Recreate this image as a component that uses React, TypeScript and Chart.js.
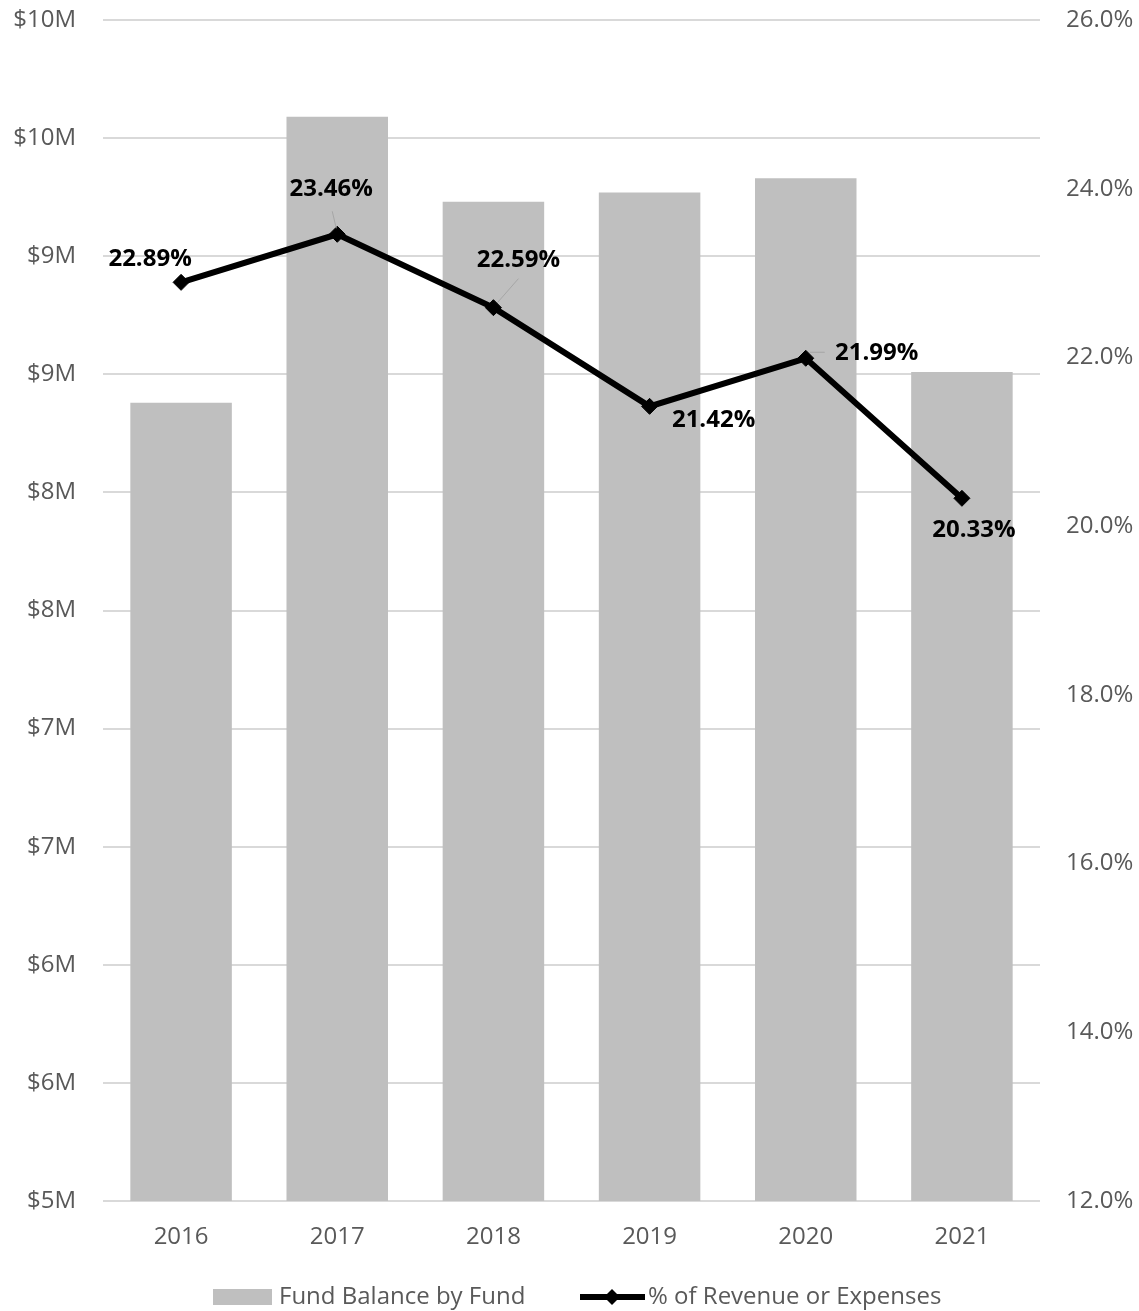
import React, { useEffect, useRef } from "react";
import { Chart, registerables } from "chart.js";

Chart.register(...registerables);

const years = ["2016", "2017", "2018", "2019", "2020", "2021"];
const fundBalance = [8.38, 9.59, 9.23, 9.27, 9.33, 8.51]; // $M
const pctRevenue = [22.89, 23.46, 22.59, 21.42, 21.99, 20.33]; // %
const seriesNames = ["Fund Balance by Fund", "% of Revenue or Expenses"];

// label placement relative to point (px) and whether a leader line is drawn
const labelOffsets = [
  { dx: -31, dy: -23, leader: false },
  { dx: -6, dy: -45, leader: true },
  { dx: 25, dy: -48, leader: true },
  { dx: 64, dy: 14, leader: false },
  { dx: 71, dy: -5, leader: true },
  { dx: 12, dy: 32, leader: false },
];

const FONT = "'Open Sans', 'Noto Sans', sans-serif";
const GREY_TEXT = "#595959";
const BAR_COLOR = "#bfbfbf";
const CLEAR = "rgba(0,0,0,0)";

const overlayPlugin = {
  id: "overlay",
  afterDatasetsDraw(chart: any) {
    const ctx = chart.ctx;
    const meta = chart.getDatasetMeta(1);
    ctx.save();
    ctx.font = `bold 24px ${FONT}`;
    ctx.textAlign = "center";
    ctx.textBaseline = "middle";
    meta.data.forEach((pt: any, i: number) => {
      const o = labelOffsets[i];
      const lx = pt.x + o.dx;
      const ly = pt.y + o.dy;
      if (o.leader) {
        ctx.strokeStyle = "#a6a6a6";
        ctx.lineWidth = 1;
        ctx.beginPath();
        if (i === 4) {
          ctx.moveTo(pt.x + 4, pt.y - 6);
          ctx.lineTo(lx - 52, pt.y - 6);
        } else if (i === 1) {
          ctx.moveTo(lx + 1, ly + 22);
          ctx.lineTo(pt.x - 1, pt.y - 6);
        } else {
          ctx.moveTo(lx, ly + 19);
          ctx.lineTo(pt.x + 4, pt.y - 5);
        }
        ctx.stroke();
      }
      ctx.fillStyle = "#000";
      ctx.fillText(pctRevenue[i].toFixed(2) + "%", lx, ly);
    });
    ctx.restore();
  },
  afterDraw(chart: any) {
    const ctx = chart.ctx;
    const y = 1297;
    ctx.save();
    ctx.fillStyle = BAR_COLOR;
    ctx.fillRect(213, y - 8, 59, 16);
    ctx.font = `24px ${FONT}`;
    ctx.fillStyle = GREY_TEXT;
    ctx.textAlign = "left";
    ctx.textBaseline = "middle";
    ctx.fillText(seriesNames[0], 279, y);
    ctx.strokeStyle = "#000";
    ctx.lineWidth = 6;
    ctx.beginPath();
    ctx.moveTo(580, y);
    ctx.lineTo(645, y);
    ctx.stroke();
    ctx.fillStyle = "#000";
    ctx.beginPath();
    ctx.moveTo(612, y - 8);
    ctx.lineTo(620, y);
    ctx.lineTo(612, y + 8);
    ctx.lineTo(604, y);
    ctx.closePath();
    ctx.fill();
    ctx.fillStyle = GREY_TEXT;
    ctx.fillText(seriesNames[1], 648, y);
    ctx.restore();
  },
};

export default function App() {
  const ref = useRef<HTMLCanvasElement | null>(null);
  useEffect(() => {
    if (!ref.current) return;
    const chart = new Chart(ref.current, {
      type: "bar",
      data: {
        labels: years,
        datasets: [
          {
            type: "bar",
            label: seriesNames[0],
            data: fundBalance,
            backgroundColor: BAR_COLOR,
            borderWidth: 0,
            barPercentage: 0.65,
            categoryPercentage: 1,
            yAxisID: "y",
            order: 1,
          },
          {
            type: "line",
            label: seriesNames[1],
            data: pctRevenue,
            borderColor: "#000",
            backgroundColor: "#000",
            borderWidth: 6,
            pointStyle: "rectRot",
            pointRadius: 8,
            pointBorderWidth: 1,
            tension: 0,
            yAxisID: "y1",
            order: 0,
          } as any,
        ],
      },
      options: {
        responsive: false,
        animation: false,
        layout: { padding: { top: 20, bottom: 0, left: 0, right: 0 } },
        plugins: {
          legend: { display: false },
          tooltip: { enabled: false },
        },
        scales: {
          x: {
            offset: true,
            grid: { display: false, drawTicks: false },
            border: { display: false },
            ticks: {
              color: GREY_TEXT,
              font: { family: FONT, size: 24 },
              padding: 22,
            },
            afterFit(scale: any) {
              scale.height = 110;
            },
          },
          y: {
            position: "left",
            min: 5,
            max: 10,
            grid: { color: "#d9d9d9", lineWidth: 2, drawTicks: true, tickLength: 27, tickColor: CLEAR },
            border: { display: false },
            ticks: {
              stepSize: 0.5,
              color: GREY_TEXT,
              font: { family: FONT, size: 24 },
              padding: 0,
              callback: (v: any) => "$" + Math.round(Number(v)) + "M",
            },
            afterFit(scale: any) {
              scale.width = 103;
            },
          },
          y1: {
            position: "right",
            min: 12,
            max: 26,
            grid: { drawOnChartArea: false, drawTicks: true, tickLength: 26, tickColor: CLEAR },
            border: { display: false },
            ticks: {
              stepSize: 2,
              color: GREY_TEXT,
              font: { family: FONT, size: 24 },
              padding: 0,
              callback: (v: any) => Number(v).toFixed(1) + "%",
            },
            afterFit(scale: any) {
              scale.width = 99;
            },
          },
        },
      },
      plugins: [overlayPlugin],
    });
    return () => chart.destroy();
  }, []);
  return (
    <div style={{ position: "fixed", left: 0, top: 0, width: 1139, height: 1311, background: "#fff" }}>
      <canvas ref={ref} width={1139} height={1311} />
    </div>
  );
}
